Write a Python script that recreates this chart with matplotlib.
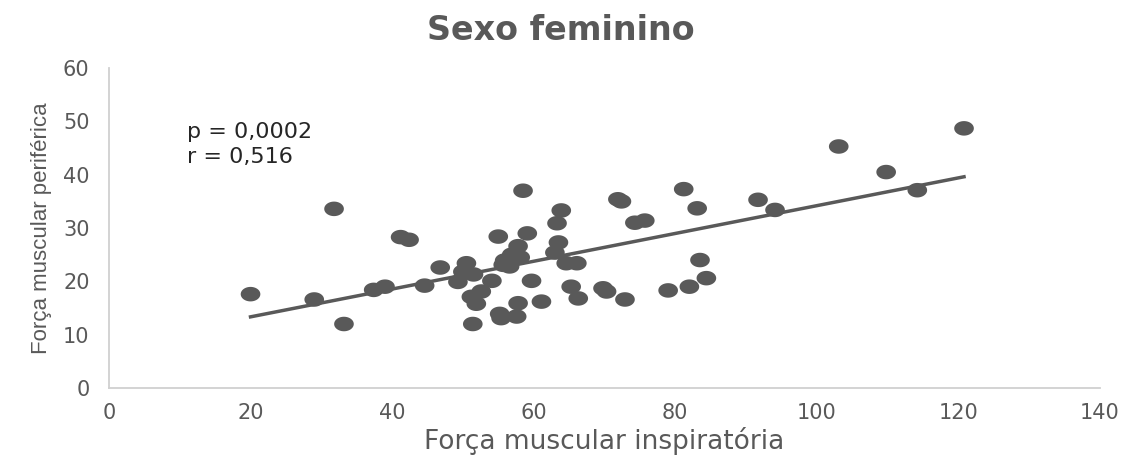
import numpy as np
import matplotlib
matplotlib.use("Agg")
import matplotlib.pyplot as plt
from matplotlib.path import Path

# data
forca_inspiratoria = [20.0, 29.0, 31.8, 33.2, 37.4, 39.0, 41.2, 42.4, 44.6, 46.8,
                      49.3, 50.0, 50.5, 51.5, 51.2, 51.9, 51.4, 52.6, 54.1, 55.0,
                      55.2, 55.4, 55.7, 55.9, 56.6, 56.9, 57.6, 57.8, 57.8, 58.1,
                      58.5, 59.1, 59.7, 61.1, 63.0, 63.3, 63.5, 63.9, 64.6, 65.3,
                      66.1, 66.3, 69.8, 70.3, 71.9, 72.4, 72.9, 74.3, 75.7, 79.0,
                      81.2, 82.0, 83.1, 83.5, 84.4, 91.7, 94.1, 103.1, 109.8, 114.2,
                      120.8]
forca_periferica = [17.6, 16.6, 33.6, 12.0, 18.4, 19.0, 28.3, 27.8, 19.2, 22.6,
                    19.9, 21.8, 23.4, 21.3, 17.1, 15.8, 12.0, 18.1, 20.1, 28.4,
                    13.9, 13.1, 23.1, 23.9, 22.8, 25.0, 13.4, 15.9, 26.6, 24.5,
                    37.0, 29.0, 20.1, 16.2, 25.4, 30.9, 27.3, 33.3, 23.4, 19.0,
                    23.4, 16.8, 18.7, 18.1, 35.4, 35.0, 16.6, 31.0, 31.4, 18.3,
                    37.3, 19.0, 33.7, 24.0, 20.6, 35.3, 33.4, 45.3, 40.5, 37.1,
                    48.7]
x_ticks = [0, 20, 40, 60, 80, 100, 120, 140]
y_ticks = [0, 10, 20, 30, 40, 50, 60]

x = np.array(forca_inspiratoria)
y = np.array(forca_periferica)

# the reference is stretched sideways, so use a flat ellipse marker
t = np.linspace(0, 2 * np.pi, 60)
ellipse = Path(np.column_stack([np.cos(t), 0.74 * np.sin(t)]), closed=True)

plt.rcParams['font.family'] = ['DejaVu Sans']
grey = '#595959'

fig = plt.figure(figsize=(11.21, 4.55), dpi=100)
ax = fig.add_axes([0.0972, 0.1473, 0.884, 0.703])

ax.scatter(x, y, marker=ellipse, s=200, color=grey, edgecolors='none', zorder=3)

# linear trend line
slope, intercept = np.polyfit(x, y, 1)
xl = np.array([x.min(), x.max()])
ax.plot(xl, slope * xl + intercept, color=grey, lw=2.5, zorder=2)

ax.text(11.0, 48.0, 'p = 0,0002', fontsize=16, color='#262626', va='center', ha='left')
ax.text(11.0, 43.3, 'r = 0,516', fontsize=16, color='#262626', va='center', ha='left')

ax.set_xlim(0, 140)
ax.set_ylim(0, 60)
ax.set_xticks(x_ticks)
ax.set_yticks(y_ticks)
ax.tick_params(axis='both', length=0, labelsize=15, labelcolor=grey)
ax.tick_params(axis='x', pad=11)
ax.tick_params(axis='y', pad=14)

for side in ['top', 'right']:
    ax.spines[side].set_visible(False)
for side in ['left', 'bottom']:
    ax.spines[side].set_color('#d0d0d0')
    ax.spines[side].set_linewidth(1.3)

ax.set_xlabel('Força muscular inspiratória', fontsize=19, color=grey, labelpad=3)
ax.set_ylabel('Força muscular periférica', fontsize=16, color=grey, labelpad=8,
              family='Liberation Sans')

fig.text(0.5005, 0.932, 'Sexo feminino', fontsize=24, fontweight='bold', color=grey,
         ha='center', va='center')

fig.savefig('out.png', dpi=100)
